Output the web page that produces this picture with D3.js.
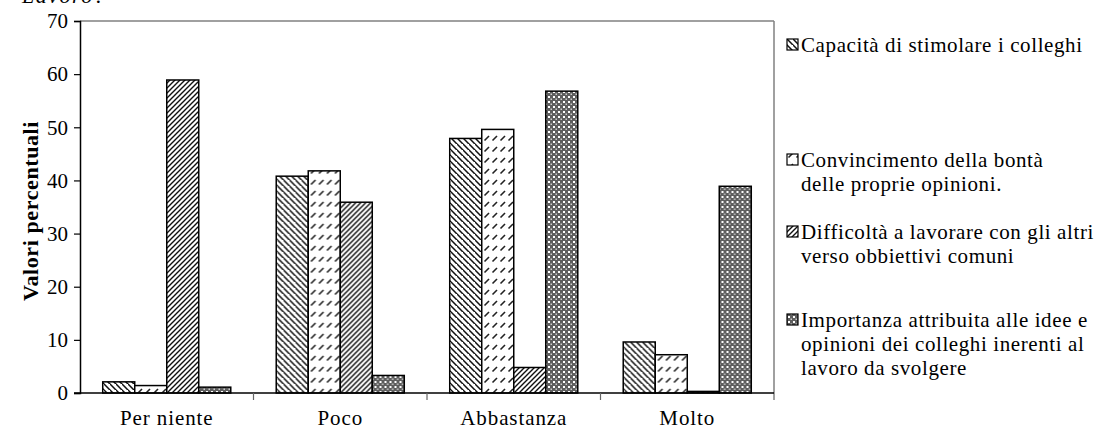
<!DOCTYPE html>
<html>
<head>
<meta charset="utf-8">
<script src="https://cdn.jsdelivr.net/npm/d3@7"></script>
<style>
  html, body { margin: 0; padding: 0; background: #fff; }
  svg { display: block; }
  svg text { font-family: "Liberation Serif", "Times New Roman", serif; }
</style>
</head>
<body>
<svg id="chart" width="1098" height="437"></svg>
<script>
// ---- data ----
const categories = ["Per niente", "Poco", "Abbastanza", "Molto"];
const seriesNames = [
  "Capacità di stimolare i colleghi",
  "Convincimento della bontà delle proprie opinioni.",
  "Difficoltà a lavorare con gli altri verso obbiettivi comuni",
  "Importanza attribuita alle idee e opinioni dei colleghi inerenti al lavoro da svolgere"
];
const legendLines = [
  ["Capacità di stimolare i colleghi"],
  ["Convincimento della bontà", "delle proprie opinioni."],
  ["Difficoltà a lavorare con gli altri", "verso obbiettivi comuni"],
  ["Importanza attribuita alle idee e", "opinioni dei colleghi inerenti al", "lavoro da svolgere"]
];
const capacita     = [2.1, 40.8, 47.9, 9.6];
const convinc      = [1.4, 41.8, 49.6, 7.2];
const difficolta   = [58.9, 35.9, 4.8, 0.3];
const importanza   = [1.1, 3.3, 56.8, 38.9];
const seriesValues = [capacita, convinc, difficolta, importanza];
const yTicks = [0, 10, 20, 30, 40, 50, 60, 70];
const yTitle = "Valori percentuali";
const topFragment = "Lavoro? ";

// ---- layout ----
const svg = d3.select("#chart");
const mLeft = 80, mRight = 774, mTop = 21, mBottom = 393;
const FONT = "Liberation Serif";

const defs = svg.append("defs");
// pattern 0: backslash dense
const p0 = defs.append("pattern").attr("id", "pat0").attr("patternUnits", "userSpaceOnUse")
  .attr("width", 6).attr("height", 6);
p0.append("rect").attr("width", 6).attr("height", 6).attr("fill", "#fff");
p0.append("path").attr("d", "M-1,-1 L7,7 M-4,2 L2,8 M4,-4 L10,2")
  .attr("stroke", "#111").attr("stroke-width", 1.5);
// pattern 1: sparse dashed forward slashes
const p1 = defs.append("pattern").attr("id", "pat1").attr("patternUnits", "userSpaceOnUse")
  .attr("width", 8).attr("height", 11);
p1.append("rect").attr("width", 8).attr("height", 11).attr("fill", "#fff");
p1.append("path").attr("d", "M1.5,8.5 L6,4")
  .attr("stroke", "#222").attr("stroke-width", 1.6);
// pattern 2: forward slash dense
const p2 = defs.append("pattern").attr("id", "pat2").attr("patternUnits", "userSpaceOnUse")
  .attr("width", 5).attr("height", 5);
p2.append("rect").attr("width", 5).attr("height", 5).attr("fill", "#fff");
p2.append("path").attr("d", "M-1,6 L6,-1 M-3,3 L3,-3 M2,8 L8,2")
  .attr("stroke", "#111").attr("stroke-width", 1.4);
// pattern 3: lattice with white dots
const p3 = defs.append("pattern").attr("id", "pat3").attr("patternUnits", "userSpaceOnUse")
  .attr("width", 5).attr("height", 5);
p3.append("rect").attr("width", 5).attr("height", 5).attr("fill", "#5e5e5e");
p3.append("rect").attr("x", 1).attr("y", 1).attr("width", 2).attr("height", 2).attr("fill", "#fff");
p3.append("rect").attr("x", 3.5).attr("y", 3.5).attr("width", 1.5).attr("height", 1.5).attr("fill", "#ccc");

// scales
const x0 = d3.scaleBand().domain(categories).range([mLeft, mRight]).paddingInner(0).paddingOuter(0);
const x1 = d3.scaleBand().domain(d3.range(seriesValues.length)).range([0, x0.bandwidth()])
  .paddingInner(0).paddingOuter(0.71);
const y = d3.scaleLinear().domain([0, 70]).range([mBottom, mTop]);

// top fragment (cut-off text, as in the reference)
svg.append("text").attr("x", 22).attr("y", 3).attr("font-size", 22).attr("font-style", "italic")
  .attr("font-family", FONT).attr("letter-spacing", 1.5).attr("fill", "#000").text(topFragment);

// plot frame (gray top and right)
svg.append("line").attr("x1", mLeft).attr("x2", mRight).attr("y1", mTop).attr("y2", mTop)
  .attr("stroke", "#808080").attr("stroke-width", 1.5);
svg.append("line").attr("x1", mRight).attr("x2", mRight).attr("y1", mTop).attr("y2", mBottom + 7)
  .attr("stroke", "#808080").attr("stroke-width", 1.5);

// bars
const groups = svg.append("g").selectAll("g").data(categories).join("g")
  .attr("transform", d => `translate(${x0(d)},0)`);
groups.selectAll("rect").data((c, ci) => seriesValues.map((s, si) => ({ si, v: s[ci] })))
  .join("rect")
  .attr("x", d => x1(d.si))
  .attr("width", x1.bandwidth())
  .attr("y", d => y(d.v))
  .attr("height", d => y(0) - y(d.v))
  .attr("fill", d => `url(#pat${d.si})`)
  .attr("stroke", "#000").attr("stroke-width", 1.5);

// y axis
const yAxis = d3.axisLeft(y).tickValues(yTicks).tickSize(6).tickPadding(6).tickFormat(d3.format("d"));
const gy = svg.append("g").attr("transform", `translate(${mLeft},0)`).call(yAxis);
gy.select(".domain").attr("stroke", "#000").attr("stroke-width", 1.5);
gy.selectAll(".tick line").attr("stroke", "#000").attr("stroke-width", 1.2);
gy.selectAll(".tick text").attr("font-size", 21).attr("font-family", FONT).attr("fill", "#000");

// x axis: line + boundary ticks + labels
svg.append("line").attr("x1", mLeft - 6).attr("x2", mRight).attr("y1", y(0)).attr("y2", y(0))
  .attr("stroke", "#000").attr("stroke-width", 1.5);
const boundaries = categories.slice(1).map(c => x0(c));
svg.append("g").selectAll("line").data(boundaries).join("line")
  .attr("x1", d => d).attr("x2", d => d).attr("y1", y(0)).attr("y2", y(0) + 7)
  .attr("stroke", "#666").attr("stroke-width", 1.2);
svg.append("g").selectAll("text").data(categories).join("text")
  .attr("x", d => x0(d) + x0.bandwidth() / 2).attr("y", 425)
  .attr("text-anchor", "middle").attr("font-size", 21).attr("font-family", FONT)
  .attr("letter-spacing", 0.9).attr("fill", "#000").text(d => d);

// y title
svg.append("text").attr("transform", `translate(38,${(mTop + mBottom) / 2 + 4}) rotate(-90)`)
  .attr("text-anchor", "middle").attr("font-size", 22).attr("font-weight", "bold")
  .attr("font-family", FONT).attr("letter-spacing", 0.6).text(yTitle);

// legend
const legendY = [45, 160, 232, 320];
const lineH = 24;
const lg = svg.append("g").selectAll("g").data(legendLines).join("g")
  .attr("transform", (d, i) => `translate(787,${legendY[i]})`);
lg.append("rect").attr("x", 0).attr("y", -6).attr("width", 11).attr("height", 11)
  .attr("fill", (d, i) => `url(#pat${i})`).attr("stroke", "#000").attr("stroke-width", 1.2);
lg.selectAll("text").data(d => d).join("text")
  .attr("x", 14).attr("y", (d, j) => j * lineH + 7)
  .attr("font-size", 21).attr("font-family", FONT).attr("letter-spacing", 0.6)
  .attr("fill", "#000").text(d => d);
</script>
</body>
</html>
